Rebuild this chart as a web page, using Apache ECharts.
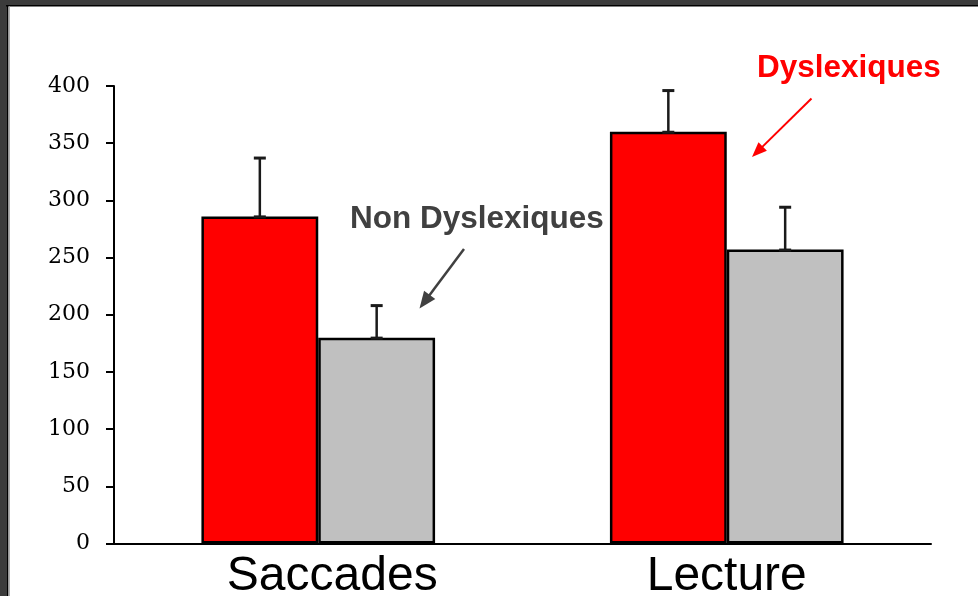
<!DOCTYPE html>
<html>
<head>
<meta charset="utf-8">
<script src="https://cdn.jsdelivr.net/npm/echarts@6/dist/echarts.min.js"></script>
<style>
  html, body { margin: 0; padding: 0; background: #ffffff; }
  #chart { width: 978px; height: 596px; }
</style>
</head>
<body>
<div id="chart"></div>
<script>
// Mean values per task and group, with the upper error (SD) for each bar
const categories = ['Saccades', 'Lecture'];
const dyslexiques = [286, 360];
const dyslexiquesErr = [51, 36];
const nonDyslexiques = [180, 257];
const nonDyslexiquesErr = [28, 37];
const yMin = 0;
const yMax = 400;
const yStep = 50;

const BAR_PCT = 0.286;
const chart = echarts.init(document.getElementById('chart'));

// error-bar rows: [category index, mean, error, side (-1 left bar, +1 right bar)]
const errRows = [];
categories.forEach(function (c, i) {
  errRows.push([i, dyslexiques[i], dyslexiquesErr[i], -1]);
  errRows.push([i, nonDyslexiques[i], nonDyslexiquesErr[i], 1]);
});

function arrow(x1, y1, x2, y2, color, lw, headLen, headW) {
  const dx = x2 - x1, dy = y2 - y1;
  const len = Math.sqrt(dx * dx + dy * dy);
  const ux = dx / len, uy = dy / len;
  const bx = x2 - ux * headLen, by = y2 - uy * headLen;
  const px = -uy, py = ux;
  return [
    { type: 'line', shape: { x1: x1, y1: y1, x2: bx + ux * 2, y2: by + uy * 2 },
      style: { stroke: color, lineWidth: lw }, z: 10 },
    { type: 'polygon', shape: { points: [[x2, y2],
        [bx + px * headW / 2, by + py * headW / 2],
        [bx - px * headW / 2, by - py * headW / 2]] },
      style: { fill: color }, z: 10 }
  ];
}

const frame = [
  { type: 'rect', shape: { x: 0, y: 0, width: 978, height: 6 }, style: { fill: '#3b3b3b' }, z: 20 },
  { type: 'rect', shape: { x: 0, y: 0, width: 7, height: 596 }, style: { fill: '#3b3b3b' }, z: 20 },
  { type: 'rect', shape: { x: 6, y: 5, width: 972, height: 1.5 }, style: { fill: '#000000' }, z: 20 },
  { type: 'rect', shape: { x: 7, y: 5, width: 1.5, height: 591 }, style: { fill: '#000000' }, z: 20 },
  { type: 'rect', shape: { x: 8.5, y: 6.5, width: 1.5, height: 590 }, style: { fill: '#b0b0b0' }, z: 20 }
];

const labels = [
  { type: 'text', x: 350, y: 219, z: 10,
    style: { text: 'Non Dyslexiques', fill: '#404040', font: 'bold 31.5px "Liberation Sans", Arial, sans-serif',
             textAlign: 'left', textVerticalAlign: 'middle' } },
  { type: 'text', x: 757, y: 68, z: 10,
    style: { text: 'Dyslexiques', fill: '#ff0000', font: 'bold 31.5px "Liberation Sans", Arial, sans-serif',
             textAlign: 'left', textVerticalAlign: 'middle' } }
];

const graphics = frame.concat(labels,
  arrow(464, 249, 419.5, 308.5, '#404040', 2.5, 17, 14),
  arrow(811.5, 98.5, 752, 157, '#ff0000', 2, 15, 12));

chart.setOption({
  animation: false,
  backgroundColor: '#ffffff',
  grid: { left: 114, right: 47, top: 86, bottom: 52.5, containLabel: false, outerBoundsMode: 'none' },
  xAxis: {
    type: 'category',
    data: [
      { value: categories[0], textStyle: { padding: [0, 0, 0, 28] } },
      { value: categories[1] }
    ],
    axisLine: { lineStyle: { color: '#000000', width: 2 } },
    axisTick: { show: false },
    axisLabel: {
      margin: 9,
      color: '#000000',
      fontSize: 48,
      fontFamily: '"Liberation Sans", Arial, sans-serif'
    }
  },
  yAxis: {
    type: 'value',
    min: yMin, max: yMax, interval: yStep,
    axisLine: { show: true, lineStyle: { color: '#000000', width: 2 } },
    axisTick: { show: true, length: 8, lineStyle: { color: '#000000', width: 2 } },
    splitLine: { show: false },
    axisLabel: {
      margin: 24,
      color: '#000000',
      fontSize: 22,
      fontFamily: '"DejaVu Serif", "Liberation Serif", serif'
    }
  },
  series: [
    {
      name: 'Dyslexiques', type: 'bar', data: dyslexiques,
      barWidth: (BAR_PCT * 100) + '%', barGap: '0%',
      itemStyle: { color: '#ff0000', borderColor: '#000000', borderWidth: 2.5 }
    },
    {
      name: 'Non Dyslexiques', type: 'bar', data: nonDyslexiques,
      barWidth: (BAR_PCT * 100) + '%', barGap: '0%',
      itemStyle: { color: '#c0c0c0', borderColor: '#000000', borderWidth: 2.5 }
    },
    {
      name: 'Erreur', type: 'custom', data: errRows, z: 5,
      encode: { x: 0, y: 1 },
      renderItem: function (params, api) {
        const cat = api.value(0);
        const v = api.value(1);
        const e = api.value(2);
        const side = api.value(3);
        const base = api.coord([cat, v]);
        const top = api.coord([cat, v + e]);
        const band = api.size([1, 0])[0];
        const x = base[0] + side * band * BAR_PCT / 2;
        const capHalf = 6;
        const st = { stroke: '#1a1a1a', lineWidth: 2.5 };
        const capSt = { stroke: '#1a1a1a', lineWidth: 3 };
        return {
          type: 'group',
          children: [
            { type: 'line', shape: { x1: x, y1: base[1], x2: x, y2: top[1] }, style: st },
            { type: 'line', shape: { x1: x - capHalf, y1: top[1], x2: x + capHalf, y2: top[1] }, style: capSt },
            { type: 'line', shape: { x1: x - capHalf, y1: base[1] + 0.5, x2: x + capHalf, y2: base[1] + 0.5 }, style: capSt }
          ]
        };
      }
    }
  ],
  graphic: graphics
});
</script>
</body>
</html>
